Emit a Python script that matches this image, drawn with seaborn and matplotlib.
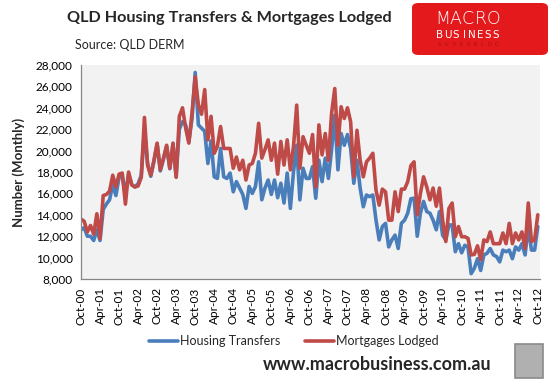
import matplotlib
matplotlib.use("Agg")
import matplotlib.pyplot as plt
import matplotlib.patches as mpatches
import matplotlib.ticker as mticker
import numpy as np
import pandas as pd
import seaborn as sns

# Monthly values (thousands), Oct-00 .. Oct-12
housing_transfers = [
    12.6, 12.8, 12.0, 12.0, 11.6, 12.6, 11.6, 14.5, 15.0, 15.4, 16.8, 15.8,
    17.5, 17.6, 16.0, 17.8, 16.8, 16.6, 16.9, 17.7, 21.8, 18.8, 17.6, 19.0,
    20.6, 18.1, 19.2, 20.4, 18.3, 20.6, 17.6, 22.0, 22.7, 22.4, 20.85, 23.0,
    27.3, 22.4, 22.1, 21.8, 18.8, 20.9, 17.55, 17.4, 20.2, 17.55, 17.4, 17.9,
    16.15, 17.1, 16.5, 15.9, 14.6, 16.65, 16.0, 16.65, 18.95, 15.4, 16.5, 17.25,
    15.9, 17.25, 15.6, 16.95, 15.1, 17.9, 14.6, 18.05, 20.5, 15.4, 18.35, 17.4,
    17.4, 18.5, 15.55, 19.1, 17.1, 19.3, 17.4, 20.1, 23.3, 18.2, 21.6, 20.5,
    21.5, 20.2, 16.95, 19.1, 16.5, 14.75, 15.85, 15.7, 15.85, 13.5, 11.65, 12.9,
    13.2, 11.0, 11.65, 12.1, 10.85, 13.2, 13.5, 14.15, 15.5, 15.55, 12.0, 14.15,
    15.25, 14.3, 14.15, 13.5, 12.6, 14.3, 12.1, 11.65, 13.05, 13.05, 10.55, 11.3,
    10.45, 11.15, 11.0, 8.5, 9.0, 9.9, 8.8, 10.25, 10.4, 10.85, 10.25, 10.1,
    9.6, 10.7, 10.55, 10.7, 9.9, 11.0, 10.7, 11.3, 10.25, 12.9, 10.7, 10.7,
    12.9,
]
mortgages_lodged = [
    13.6, 13.4, 12.4, 13.0, 12.2, 14.1, 11.8, 15.8, 15.9, 16.2, 17.7, 16.6,
    17.8, 17.9, 15.0, 18.0, 16.8, 16.6, 16.7, 17.5, 23.1, 18.6, 17.7, 19.1,
    20.7, 18.2, 19.3, 20.5, 18.35, 20.7, 17.5, 23.2, 24.0, 22.1, 20.7, 23.5,
    26.9, 24.3, 23.4, 25.7, 21.0, 23.2, 19.75, 20.4, 22.25, 20.2, 20.2, 20.2,
    18.35, 19.4, 18.2, 19.1, 17.25, 18.65, 18.8, 19.75, 22.55, 19.3, 20.1, 21.0,
    19.1, 20.7, 17.8, 20.85, 18.65, 21.0, 18.2, 20.4, 24.25, 18.35, 21.3, 20.5,
    19.75, 21.5, 16.6, 22.4, 19.6, 21.6, 19.1, 23.5, 25.8, 20.5, 24.1, 23.0,
    24.0, 22.7, 17.55, 21.9, 19.1, 17.55, 18.95, 19.3, 19.75, 16.3, 14.9, 16.4,
    16.15, 13.5, 13.5, 16.15, 14.3, 16.4, 16.4, 17.1, 18.6, 18.95, 14.0, 16.0,
    17.55, 16.6, 15.4, 16.5, 14.8, 16.5, 13.5, 11.5, 14.6, 15.1, 11.95, 12.9,
    11.95, 11.95, 11.8, 10.25, 10.3, 11.1, 9.8, 11.65, 11.5, 12.4, 11.3, 11.3,
    11.3, 12.3, 11.3, 13.2, 11.3, 12.3, 11.65, 12.4, 10.85, 15.1, 11.5, 11.65,
    14.0,
]
tick_labels = [
    "Oct-00", "Apr-01", "Oct-01", "Apr-02", "Oct-02", "Apr-03", "Oct-03",
    "Apr-04", "Oct-04", "Apr-05", "Oct-05", "Apr-06", "Oct-06", "Apr-07",
    "Oct-07", "Apr-08", "Oct-08", "Apr-09", "Oct-09", "Apr-10", "Oct-10",
    "Apr-11", "Oct-11", "Apr-12", "Oct-12",
]
series_names = ["Housing Transfers", "Mortgages Lodged"]
y_ticks = [8000, 10000, 12000, 14000, 16000, 18000, 20000, 22000, 24000, 26000, 28000]

n = len(housing_transfers)
month = np.arange(n)
df = pd.DataFrame({
    "month": np.concatenate([month, month]),
    "value": np.concatenate([np.array(housing_transfers) * 1000, np.array(mortgages_lodged) * 1000]),
    "series": [series_names[0]] * n + [series_names[1]] * n,
})

sns.set_theme(style="white")
plt.rcParams["font.family"] = ["Lato", "DejaVu Sans"]

W, H = 548, 384
fig = plt.figure(figsize=(W / 100, H / 100), dpi=100)
fig.patch.set_facecolor("white")

left, right, top, bottom = 81, 540, 65, 279
ax = fig.add_axes([left / W, 1 - bottom / H, (right - left) / W, (bottom - top) / H])
ax.set_facecolor("#F2F2F2")

palette = {series_names[0]: "#4A7EBB", series_names[1]: "#BE4B48"}
sns.lineplot(data=df, x="month", y="value", hue="series", palette=palette,
             linewidth=2.6, ax=ax, legend=False)

ax.set_xlim(0, n - 1 + 0.7)
ax.set_ylim(8000, 28000)
ax.set_yticks(y_ticks)
ax.yaxis.set_major_formatter(mticker.FuncFormatter(lambda v, p: f"{int(v):,}"))
ax.set_xticks(np.arange(0, n, 6))
ax.set_xticklabels(tick_labels, rotation=90)
ax.tick_params(axis="both", which="major", length=4, width=0.8, color="#868686",
               labelsize=8.5, labelcolor="black", direction="out")
ax.tick_params(axis="x", pad=2)
ax.tick_params(axis="y", pad=2)
for s in ["top", "right"]:
    ax.spines[s].set_visible(False)
for s in ["left", "bottom"]:
    ax.spines[s].set_color("#868686")
    ax.spines[s].set_linewidth(0.9)
ax.grid(False)
ax.set_xlabel("")
ax.set_ylabel("Number (Monthly)", fontsize=9.5, fontweight="bold", labelpad=8)

# Titles
fig.text(229 / W, 1 - 18 / H, "QLD Housing Transfers & Mortgages Lodged",
         ha="center", va="center", fontsize=11.7, fontweight="bold")
fig.text(75 / W, 1 - 45 / H, "Source: QLD DERM", ha="left", va="center", fontsize=9)

# Logo box
logo = mpatches.FancyBboxPatch((412 / W, 1 - 55 / H), (W - 412) / W, 52 / H,
                               boxstyle="round,pad=0,rounding_size=0.012",
                               transform=fig.transFigure, facecolor="#E3191C",
                               edgecolor="none")
fig.patches.append(logo)


def spaced(word, cx, cy, span, size, color, weight="normal"):
    k = len(word)
    for j, ch in enumerate(word):
        px = cx - span / 2 + span * (j + 0.5) / k
        fig.text(px / W, 1 - cy / H, ch, ha="center", va="center", fontsize=size,
                 color=color, family=["DejaVu Sans"], fontweight=weight)


spaced("MACRO", 468, 19, 64, 12.5, "white", "light")
spaced("BUSINESS", 468, 34.5, 64, 7.5, "white")
spaced("SUPERBLOG", 468, 44.5, 64, 3.5, "#A81010")

# Legend
handles = [plt.Line2D([], [], color=palette[s], linewidth=2.6) for s in series_names]
fig.legend(handles, series_names, loc="center", bbox_to_anchor=(294 / W, 1 - 341 / H),
           ncol=2, frameon=False, fontsize=9, handlelength=2.3, handletextpad=0.15,
           columnspacing=2.0)

# Footer
fig.text(377 / W, 1 - 365 / H, "www.macrobusiness.com.au", ha="center", va="center",
         fontsize=13, fontweight="bold")
wolf = mpatches.Rectangle((515 / W, 1 - 378 / H), 28 / W, 34 / H,
                          transform=fig.transFigure, facecolor="#B0B0B0",
                          edgecolor="#8A8A8A", linewidth=1.2)
fig.patches.append(wolf)

fig.savefig("out.png", dpi=100)
